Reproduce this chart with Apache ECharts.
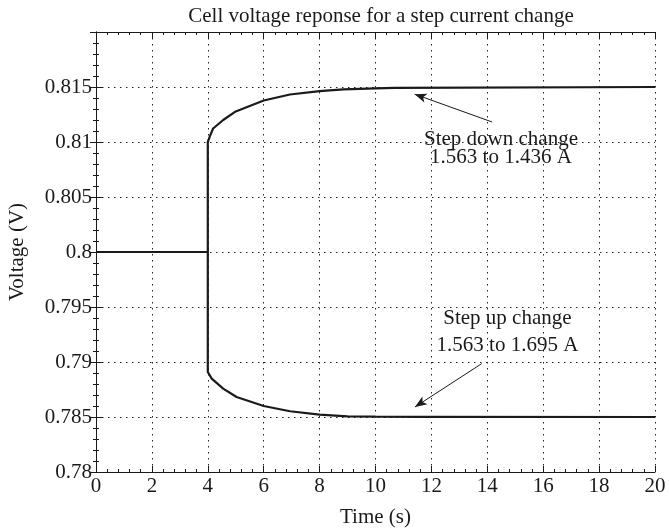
<!DOCTYPE html>
<html>
<head>
<meta charset="utf-8">
<script src="https://cdn.jsdelivr.net/npm/echarts@6/dist/echarts.min.js"></script>
<style>
  html, body { margin: 0; padding: 0; background: #fff; }
  #chart { width: 669px; height: 531px; }
</style>
</head>
<body>
<div id="chart"></div>
<script>
// step down: 1.563 -> 1.436 A  (time s, voltage V)
const stepDownTime = [0, 4, 4, 4.08, 4.19, 4.55, 5.0, 6.0, 6.94, 8.0, 8.85, 10.0, 10.7, 10.7, 20];
const stepDownVolt = [0.8, 0.8, 0.81, 0.81056, 0.81123, 0.812, 0.81278, 0.81377, 0.81432, 0.81463, 0.81478, 0.81488, 0.81492, 0.815, 0.815];

// step up: 1.563 -> 1.695 A
const stepUpTime = [0, 4, 4, 4.14, 4.55, 5.03, 6.0, 6.94, 8.0, 9.0, 10.0, 11.7, 11.7, 20];
const stepUpVolt = [0.8, 0.8, 0.78909, 0.78849, 0.78758, 0.78682, 0.786, 0.78552, 0.78522, 0.78506, 0.78503, 0.78502, 0.785, 0.785];

const yTicks = [0.78, 0.785, 0.79, 0.795, 0.8, 0.805, 0.81, 0.815];

// annotations: text centre [x, line1 y, line2 y], arrows [tail, head]
const downLabel = ['Step down change', '1.563 to 1.436 A'];
const downLabelPos = [14.49, 0.81025, 0.80861];
const downArrow = [[14.17, 0.81182], [11.4, 0.81435]];
const upLabel = ['Step up change', '1.563 to 1.695 A'];
const upLabelPos = [14.72, 0.79397, 0.79152];
const upArrow = [[13.8, 0.78985], [11.41, 0.78591]];

const font = 'Liberation Serif';
const fs = 21;
const ink = '#1a1a1a';

const zip = (xs, ys) => xs.map((x, i) => [x, ys[i]]);

const textPoint = (str, x, y) => ({
  coord: [x, y],
  symbol: 'circle',
  symbolSize: 1,
  itemStyle: { color: 'transparent' },
  label: { show: true, position: 'inside', formatter: str, color: ink, fontFamily: font, fontSize: fs }
});

const chart = echarts.init(document.getElementById('chart'));

const option = {
  backgroundColor: '#fff',
  animation: false,
  title: {
    text: 'Cell voltage reponse for a step current change',
    left: 376, top: 1, textAlign: 'center',
    textStyle: { fontFamily: font, fontSize: fs, fontWeight: 'normal', color: ink }
  },
  grid: { left: 96, right: 14, top: 32, bottom: 59, containLabel: false, outerBoundsMode: 'none' },
  xAxis: [
    {
      type: 'value', min: 0, max: 20, interval: 2,
      name: 'Time (s)', nameLocation: 'middle', nameGap: 35,
      nameTextStyle: { fontFamily: font, fontSize: fs, color: ink },
      axisLine: { lineStyle: { color: ink, width: 1 } },
      axisTick: { inside: true, length: 6, lineStyle: { color: ink } },
      minorTick: { show: true, splitNumber: 5, length: 3, lineStyle: { color: ink } },
      axisLabel: { fontFamily: font, fontSize: fs, color: ink, margin: 4 },
      splitLine: { show: true, lineStyle: { color: '#222', type: [1.5, 4.5], width: 1 } }
    },
    {
      type: 'value', min: 0, max: 20, interval: 2, position: 'top',
      axisLine: { show: true, lineStyle: { color: ink } },
      axisTick: { show: true, inside: true, length: 6, lineStyle: { color: ink } },
      minorTick: { show: true, splitNumber: 5, length: 3, lineStyle: { color: ink } },
      axisLabel: { show: false },
      splitLine: { show: false }
    }
  ],
  yAxis: [
    {
      type: 'value', min: 0.78, max: 0.82, interval: 0.005,
      name: 'Voltage (V)', nameLocation: 'middle', nameGap: 68,
      nameTextStyle: { fontFamily: font, fontSize: fs, color: ink },
      axisLine: { show: true, lineStyle: { color: ink, width: 1 } },
      axisTick: { show: true, inside: true, length: 6, lineStyle: { color: ink } },
      minorTick: { show: true, splitNumber: 5, length: 3, lineStyle: { color: ink } },
      axisLabel: {
        fontFamily: font, fontSize: fs, color: ink, margin: 4,
        formatter: v => {
          const t = yTicks.find(k => Math.abs(k - v) < 1e-9);
          return t === undefined ? '' : String(t);
        }
      },
      splitLine: { show: true, lineStyle: { color: '#222', type: [1.5, 4.5], width: 1 } }
    },
    {
      type: 'value', min: 0.78, max: 0.82, interval: 0.005, position: 'right',
      axisLine: { show: true, lineStyle: { color: ink } },
      axisTick: { show: true, inside: true, length: 6, lineStyle: { color: ink } },
      minorTick: { show: true, splitNumber: 5, length: 3, lineStyle: { color: ink } },
      axisLabel: { show: false },
      splitLine: { show: false }
    }
  ],
  series: [
    {
      name: 'Step down', type: 'line', xAxisIndex: 0, yAxisIndex: 0,
      data: zip(stepDownTime, stepDownVolt),
      showSymbol: false, symbol: 'none', smooth: false,
      lineStyle: { color: ink, width: 2.2 },
      markPoint: {
        silent: true,
        data: [
          textPoint(downLabel[0], downLabelPos[0], downLabelPos[1]),
          textPoint(downLabel[1], downLabelPos[0], downLabelPos[2])
        ]
      },
      markLine: {
        silent: true, symbol: ['none', 'arrow'], symbolSize: [7, 12],
        lineStyle: { color: ink, width: 1, type: 'solid' },
        label: { show: false },
        data: [[{ coord: downArrow[0] }, { coord: downArrow[1] }]]
      }
    },
    {
      name: 'Step up', type: 'line', xAxisIndex: 0, yAxisIndex: 0,
      data: zip(stepUpTime, stepUpVolt),
      showSymbol: false, symbol: 'none', smooth: false,
      lineStyle: { color: ink, width: 2.2 },
      markPoint: {
        silent: true,
        data: [
          textPoint(upLabel[0], upLabelPos[0], upLabelPos[1]),
          textPoint(upLabel[1], upLabelPos[0], upLabelPos[2])
        ]
      },
      markLine: {
        silent: true, symbol: ['none', 'arrow'], symbolSize: [7, 12],
        lineStyle: { color: ink, width: 1, type: 'solid' },
        label: { show: false },
        data: [[{ coord: upArrow[0] }, { coord: upArrow[1] }]]
      }
    }
  ]
};

chart.setOption(option);
</script>
</body>
</html>
